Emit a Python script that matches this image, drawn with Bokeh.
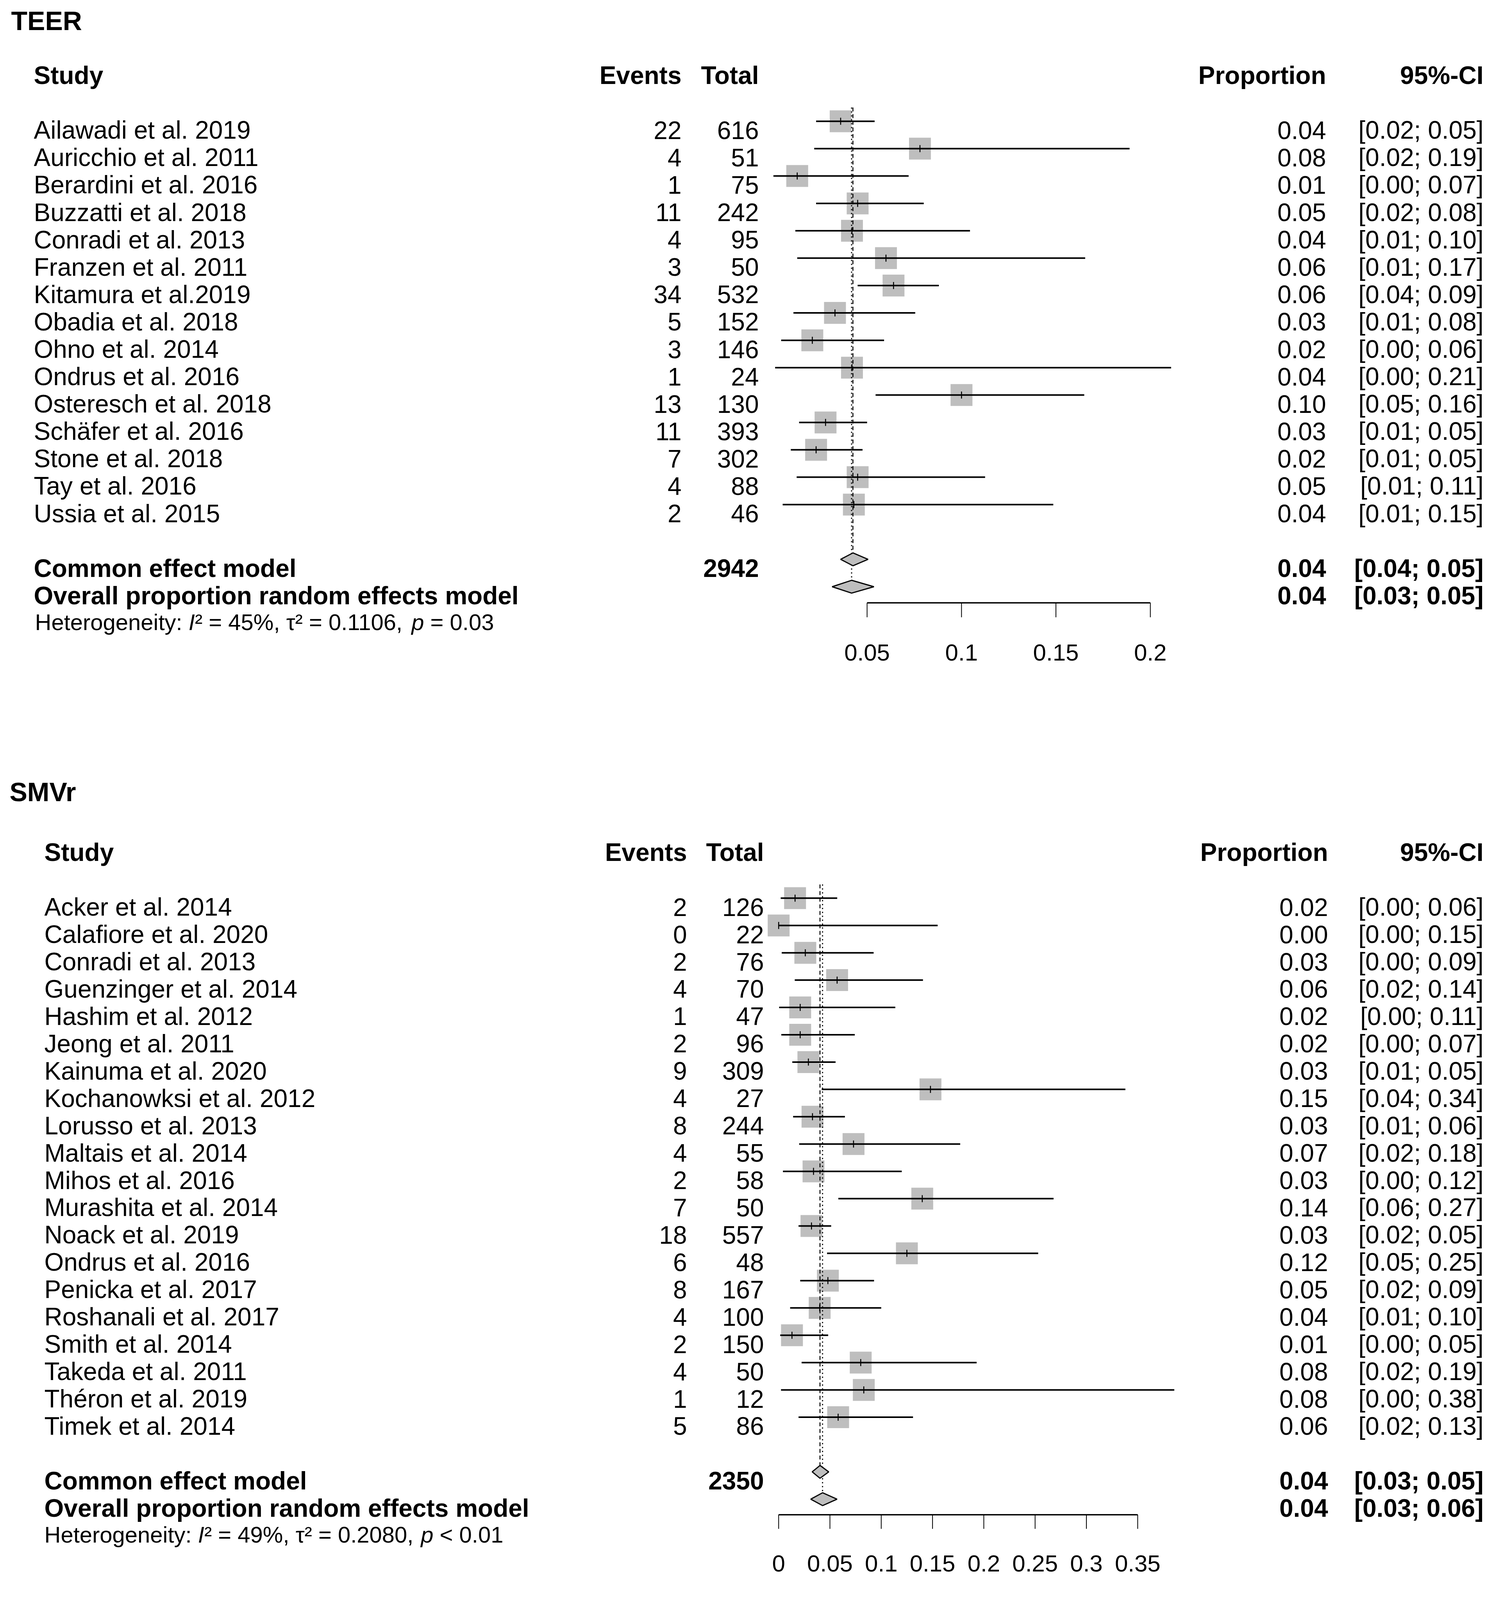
import numpy as np
from bokeh.plotting import figure
from bokeh.models import Range1d
from bokeh.layouts import column
from bokeh.core.properties import value
from bokeh.embed import file_html
from bokeh.resources import INLINE

# ---------------------------------------------------------------- TEER data
TEER_STUDIES = ["Ailawadi et al. 2019", "Auricchio et al. 2011", "Berardini et al. 2016",
                "Buzzatti et al. 2018", "Conradi et al. 2013", "Franzen et al. 2011",
                "Kitamura et al.2019", "Obadia et al. 2018", "Ohno et al. 2014",
                "Ondrus et al. 2016", "Osteresch et al. 2018", "Schäfer et al. 2016",
                "Stone et al. 2018", "Tay et al. 2016", "Ussia et al. 2015"]
TEER_EVENTS = [22, 4, 1, 11, 4, 3, 34, 5, 3, 1, 13, 11, 7, 4, 2]
TEER_TOTAL = [616, 51, 75, 242, 95, 50, 532, 152, 146, 24, 130, 393, 302, 88, 46]
TEER_PROP = [0.036, 0.078, 0.013, 0.045, 0.042, 0.060, 0.064, 0.033, 0.021, 0.042,
             0.100, 0.028, 0.023, 0.045, 0.043]
TEER_LOWER = [0.023, 0.022, 0.0004, 0.023, 0.012, 0.013, 0.045, 0.011, 0.0045, 0.0013,
              0.0545, 0.014, 0.0096, 0.0127, 0.0053]
TEER_UPPER = [0.054, 0.189, 0.072, 0.080, 0.1045, 0.1655, 0.088, 0.0755, 0.059, 0.211,
              0.165, 0.050, 0.0476, 0.1125, 0.1486]
TEER_PROP_TXT = ["0.04", "0.08", "0.01", "0.05", "0.04", "0.06", "0.06", "0.03", "0.02",
                 "0.04", "0.10", "0.03", "0.02", "0.05", "0.04"]
TEER_CI_TXT = ["[0.02; 0.05]", "[0.02; 0.19]", "[0.00; 0.07]", "[0.02; 0.08]", "[0.01; 0.10]",
               "[0.01; 0.17]", "[0.04; 0.09]", "[0.01; 0.08]", "[0.00; 0.06]", "[0.00; 0.21]",
               "[0.05; 0.16]", "[0.01; 0.05]", "[0.01; 0.05]", "[0.01; 0.11]", "[0.01; 0.15]"]
TEER_SUM_LABELS = ["Common effect model", "Overall proportion random effects model"]
TEER_SUM_TOTAL = ["2942", ""]
TEER_SUM_EST = [0.0425, 0.0418]
TEER_SUM_LOWER = [0.0360, 0.0315]
TEER_SUM_UPPER = [0.0505, 0.0536]
TEER_SUM_PROP_TXT = ["0.04", "0.04"]
TEER_SUM_CI_TXT = ["[0.04; 0.05]", "[0.03; 0.05]"]
TEER_HET = ["Heterogeneity: ", "I", "\u00b2 = 45%, \u03c4\u00b2 = 0.1106, ", "p", " = 0.03"]
TEER_TICKS = [0.05, 0.1, 0.15, 0.2]
TEER_TICK_LABELS = ["0.05", "0.1", "0.15", "0.2"]

# ---------------------------------------------------------------- SMVr data
SMVR_STUDIES = ["Acker et al. 2014", "Calafiore et al. 2020", "Conradi et al. 2013",
                "Guenzinger et al. 2014", "Hashim et al. 2012", "Jeong et al. 2011",
                "Kainuma et al. 2020", "Kochanowksi et al. 2012", "Lorusso et al. 2013",
                "Maltais et al. 2014", "Mihos et al. 2016", "Murashita et al. 2014",
                "Noack et al. 2019", "Ondrus et al. 2016", "Penicka et al. 2017",
                "Roshanali et al. 2017", "Smith et al. 2014", "Takeda et al. 2011",
                "Théron et al. 2019", "Timek et al. 2014"]
SMVR_EVENTS = [2, 0, 2, 4, 1, 2, 9, 4, 8, 4, 2, 7, 18, 6, 8, 4, 2, 4, 1, 5]
SMVR_TOTAL = [126, 22, 76, 70, 47, 96, 309, 27, 244, 55, 58, 50, 557, 48, 167, 100, 150, 50, 12, 86]
SMVR_PROP = [0.016, 0.0, 0.026, 0.057, 0.021, 0.021, 0.029, 0.148, 0.033, 0.073,
             0.034, 0.140, 0.032, 0.125, 0.048, 0.040, 0.013, 0.080, 0.083, 0.058]
SMVR_LOWER = [0.002, 0.0, 0.003, 0.0157, 0.0005, 0.0026, 0.0133, 0.042, 0.0141, 0.020,
              0.0042, 0.0582, 0.0194, 0.0472, 0.021, 0.0112, 0.0015, 0.0224, 0.0023, 0.0194]
SMVR_UPPER = [0.0571, 0.155, 0.0926, 0.1407, 0.1137, 0.0742, 0.0555, 0.338, 0.0646, 0.177,
              0.120, 0.268, 0.0512, 0.253, 0.093, 0.100, 0.0483, 0.193, 0.3857, 0.131]
SMVR_PROP_TXT = ["0.02", "0.00", "0.03", "0.06", "0.02", "0.02", "0.03", "0.15", "0.03", "0.07",
                 "0.03", "0.14", "0.03", "0.12", "0.05", "0.04", "0.01", "0.08", "0.08", "0.06"]
SMVR_CI_TXT = ["[0.00; 0.06]", "[0.00; 0.15]", "[0.00; 0.09]", "[0.02; 0.14]", "[0.00; 0.11]",
               "[0.00; 0.07]", "[0.01; 0.05]", "[0.04; 0.34]", "[0.01; 0.06]", "[0.02; 0.18]",
               "[0.00; 0.12]", "[0.06; 0.27]", "[0.02; 0.05]", "[0.05; 0.25]", "[0.02; 0.09]",
               "[0.01; 0.10]", "[0.00; 0.05]", "[0.02; 0.19]", "[0.00; 0.38]", "[0.02; 0.13]"]
SMVR_SUM_LABELS = ["Common effect model", "Overall proportion random effects model"]
SMVR_SUM_TOTAL = ["2350", ""]
SMVR_SUM_EST = [0.0403, 0.0428]
SMVR_SUM_LOWER = [0.0327, 0.0313]
SMVR_SUM_UPPER = [0.0488, 0.0569]
SMVR_SUM_PROP_TXT = ["0.04", "0.04"]
SMVR_SUM_CI_TXT = ["[0.03; 0.05]", "[0.03; 0.06]"]
SMVR_HET = ["Heterogeneity: ", "I", "\u00b2 = 49%, \u03c4\u00b2 = 0.2080, ", "p", " < 0.01"]
SMVR_TICKS = [0, 0.05, 0.1, 0.15, 0.2, 0.25, 0.3, 0.35]
SMVR_TICK_LABELS = ["0", "0.05", "0.1", "0.15", "0.2", "0.25", "0.3", "0.35"]

# ---------------------------------------------------------------- styling / layout
FONT = "Liberation Sans"
VF = 0.82        # vertical compression so that the whole page fits the captured height
FS = 64          # body font size (px)
FS_HET = 58
FS_TICK = 60
FS_TITLE = 68
BOX = 56
GREY = "#bebebe"
PAGE_W = 3830
LEFT_REF, RIGHT_REF = 8, 3838

# approximate Liberation Sans advance widths (per 1000 em) for the heterogeneity line
ADV = {'H': 722, 'e': 556, 't': 278, 'r': 333, 'o': 556, 'g': 556, 'n': 556, 'i': 222,
       'y': 500, ':': 278, ' ': 278, 'I': 278, '=': 584, '<': 584, '.': 278, ',': 278,
       '%': 889, '\u03c4': 440, '\u00b2': 333, 'p': 556}


def text_w(s, size):
    return sum(ADV.get(ch, 556) for ch in s) * size / 1000.0


TEER_LAYOUT = dict(title="TEER", top=8, bottom=2200, y0=386.0, dy=85.5, x0=1985.4, kx=4834.0,
                   title_x=36, title_base=72, study_x=94, events_r=1752, total_r=1950,
                   prop_r=3402, ci_r=3805, het_x=97, axis_row=17.59, tick_len=45,
                   tick_lab_base=19.40)
SMVR_LAYOUT = dict(title="SMVr", top=2200, bottom=4965, y0=2812.0, dy=85.3, x0=2000.7, kx=2626.0,
                   title_x=32, title_base=2480, study_x=121, events_r=1766, total_r=1963,
                   prop_r=3407, ci_r=3805, het_x=121, axis_row=22.57, tick_len=44,
                   tick_lab_base=24.36)


def build(L, studies, events, totals, prop, lower, upper, prop_txt, ci_txt,
          sum_labels, sum_total, sum_est, sum_lo, sum_hi, sum_prop_txt, sum_ci_txt,
          het, ticks, tick_labels):
    y0, dy, x0, kx = L["y0"], L["dy"], L["x0"], L["kx"]
    row_px = dy * VF

    def X(ref):
        return (ref - x0) / kx

    r_top = (L["top"] - y0) / dy
    r_bot = (L["bottom"] - y0) / dy
    p = figure(width=PAGE_W, height=int(round((L["bottom"] - L["top"]) * VF)),
               x_range=Range1d(X(LEFT_REF), X(RIGHT_REF)),
               y_range=Range1d(r_bot, r_top),
               output_backend="svg", toolbar_location=None,
               x_axis_location=None, y_axis_location=None,
               min_border=0, outline_line_color=None,
               background_fill_color="white", border_fill_color="white")
    p.xgrid.visible = False
    p.ygrid.visible = False

    def cap(size):
        return 0.358 * size / row_px

    def txt(xs, ys, texts, align, size=FS, style="normal"):
        p.text(x=xs, y=[y + cap(size) for y in ys], text=texts, text_align=align,
               text_baseline="alphabetic", text_font=value(FONT),
               text_font_size=f"{size}px", text_font_style=style, text_color="black")

    n = len(studies)
    rows = list(range(n))
    srows = [n + 1, n + 2]
    het_row = n + 3

    # title
    p.text(x=[X(L["title_x"])], y=[(L["title_base"] - y0) / dy], text=[L["title"]],
           text_align="left", text_baseline="alphabetic", text_font=value(FONT),
           text_font_size=f"{FS_TITLE}px", text_font_style="bold", text_color="black")

    # headers
    hr = [-2]
    txt([X(L["study_x"])], hr, ["Study"], "left", style="bold")
    txt([X(L["events_r"])], hr, ["Events"], "right", style="bold")
    txt([X(L["total_r"])], hr, ["Total"], "right", style="bold")
    txt([X(L["prop_r"])], hr, ["Proportion"], "right", style="bold")
    txt([X(L["ci_r"])], hr, ["95%-CI"], "right", style="bold")

    # study rows
    txt([X(L["study_x"])] * n, rows, studies, "left")
    txt([X(L["events_r"])] * n, rows, [str(e) for e in events], "right")
    txt([X(L["total_r"])] * n, rows, [str(t) for t in totals], "right")
    txt([X(L["prop_r"])] * n, rows, prop_txt, "right")
    txt([X(L["ci_r"])] * n, rows, ci_txt, "right")

    # summary rows
    txt([X(L["study_x"])] * 2, srows, sum_labels, "left", style="bold")
    txt([X(L["total_r"])] * 2, srows, sum_total, "right", style="bold")
    txt([X(L["prop_r"])] * 2, srows, sum_prop_txt, "right", style="bold")
    txt([X(L["ci_r"])] * 2, srows, sum_ci_txt, "right", style="bold")

    # heterogeneity line (pieces for italic I and p); leading blanks are skipped by
    # the SVG text, so they are turned into an x shift
    xpos = L["het_x"]
    for piece in het:
        style = "italic" if piece in ("I", "p") else "normal"
        lead = len(piece) - len(piece.lstrip(" "))
        shown = piece.strip(" ")
        txt([X(xpos + text_w(" " * lead, FS_HET))], [het_row], [shown], "left",
            size=FS_HET, style=style)
        xpos += text_w(piece, FS_HET)

    # study squares
    p.scatter(x=prop, y=rows, marker="square", size=BOX, fill_color=GREY, line_color=None)

    # reference lines (common dashed, random dotted)
    h = 20.0 / dy
    p.segment(x0=[sum_est[0]], y0=[-0.5], x1=[sum_est[0]], y1=[srows[0] - h],
              line_color="black", line_width=2.5, line_dash="10 7")
    p.segment(x0=[sum_est[1]], y0=[-0.5], x1=[sum_est[1]], y1=[srows[1] - h],
              line_color="black", line_width=3, line_dash="3 7")

    # confidence intervals and point ticks
    p.segment(x0=lower, y0=rows, x1=upper, y1=rows, line_color="black", line_width=4)
    tk = 11.0 / dy
    p.segment(x0=prop, y0=[r - tk for r in rows], x1=prop, y1=[r + tk for r in rows],
              line_color="black", line_width=2.5)

    # summary diamonds
    xs = [[lo, e, hi, e] for lo, e, hi in zip(sum_lo, sum_est, sum_hi)]
    ys = [[r, r - h, r, r + h] for r in srows]
    p.patches(xs=xs, ys=ys, fill_color=GREY, line_color="black", line_width=3)

    # x axis
    ar = L["axis_row"]
    p.segment(x0=[min(ticks)], y0=[ar], x1=[max(ticks)], y1=[ar],
              line_color="black", line_width=3.5)
    p.segment(x0=ticks, y0=[ar] * len(ticks), x1=ticks,
              y1=[ar + L["tick_len"] / dy] * len(ticks), line_color="black", line_width=2)
    p.text(x=ticks, y=[L["tick_lab_base"]] * len(ticks), text=tick_labels,
           text_align="center", text_baseline="alphabetic", text_font=value(FONT),
           text_font_size=f"{FS_TICK}px", text_color="black")
    return p


p1 = build(TEER_LAYOUT, TEER_STUDIES, TEER_EVENTS, TEER_TOTAL, TEER_PROP, TEER_LOWER,
           TEER_UPPER, TEER_PROP_TXT, TEER_CI_TXT, TEER_SUM_LABELS, TEER_SUM_TOTAL,
           TEER_SUM_EST, TEER_SUM_LOWER, TEER_SUM_UPPER, TEER_SUM_PROP_TXT,
           TEER_SUM_CI_TXT, TEER_HET, TEER_TICKS, TEER_TICK_LABELS)
p2 = build(SMVR_LAYOUT, SMVR_STUDIES, SMVR_EVENTS, SMVR_TOTAL, SMVR_PROP, SMVR_LOWER,
           SMVR_UPPER, SMVR_PROP_TXT, SMVR_CI_TXT, SMVR_SUM_LABELS, SMVR_SUM_TOTAL,
           SMVR_SUM_EST, SMVR_SUM_LOWER, SMVR_SUM_UPPER, SMVR_SUM_PROP_TXT,
           SMVR_SUM_CI_TXT, SMVR_HET, SMVR_TICKS, SMVR_TICK_LABELS)

layout = column(p1, p2, spacing=0)
open("out.html", "w").write(file_html(layout, INLINE, "Forest plots"))
